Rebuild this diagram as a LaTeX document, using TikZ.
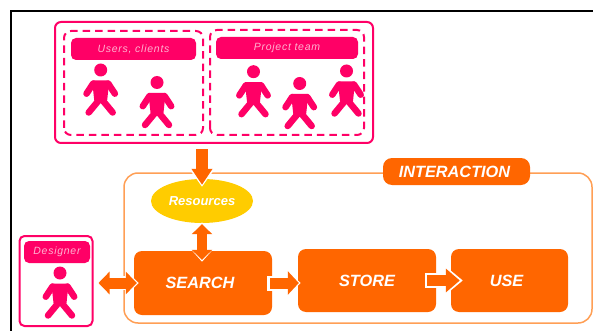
\documentclass[tikz,border=0pt]{standalone}
\usepackage{fontspec}
\setmainfont{Liberation Sans}
\newfontfamily\lblfont[LetterSpace=7]{Liberation Sans}
\usetikzlibrary{arrows.meta,shapes.geometric,calc}
\definecolor{pk}{HTML}{FF0066}
\definecolor{og}{HTML}{FF6600}
\definecolor{yl}{HTML}{FFCC00}
\definecolor{fr}{HTML}{FF9F55}
\definecolor{lbl}{HTML}{FFB3D1}
\tikzset{
  x=1pt,y=-1pt,
  dashbox/.style={draw=pk,line width=2pt,rounded corners=7pt,dash pattern=on 7.5pt off 5pt},
  pinklabel/.style={fill=pk,rounded corners=5pt,text=lbl,font=\lblfont\itshape\fontsize{10.5}{12}\selectfont,inner sep=0pt,anchor=center},
  stepbox/.style={fill=og,draw=none,rounded corners=8pt,text=white,font=\bfseries\itshape\fontsize{16.3}{18}\selectfont,inner sep=0pt,anchor=center},
  person/.pic={
    \fill[pk] (0,0) circle (6.5);
    \filldraw[pk,line width=2pt,line join=round] (-7.5,11.5) -- (7.5,11.5) -- (5.5,30) -- (-5.5,30) -- cycle;
    \draw[pk,line width=6.5pt,line cap=round,line join=round]
      (-14.2,23.7) -- (-7.5,13.5) (7.5,13.5) -- (14.2,23.7)
      (-12,42.5) -- (0,28) -- (12,42.5);
  }
}
\begin{document}
\begin{tikzpicture}
\useasboundingbox (0,0) rectangle (593,331);
\fill[white] (0,0) rectangle (593,331);
\draw[black,line width=2.2pt] (11,331) -- (11,11) -- (593,11);

% interaction frame
\draw[fr,line width=1.5pt,rounded corners=14pt] (124,173) rectangle (592,323);
\node[stepbox,rounded corners=9pt,minimum width=147pt,minimum height=27pt] (inter) at (456.5,171.5) {\hspace*{-4pt}INTERACTION};

% people group
\node[draw=pk,line width=2pt,rounded corners=6pt,minimum width=318pt,minimum height=121pt,inner sep=0pt] (group) at (214,82.5) {};
\draw[dashbox] (64,135) -- (64,31) -- (203,31) -- (203,135) -- cycle;
\draw[dashbox] (210,135) -- (210,30) -- (364,30) -- (364,135) -- cycle;
\node[pinklabel,minimum width=125pt,minimum height=22pt] (users) at (133.5,49) {Users, clients};
\node[pinklabel,minimum width=142pt,minimum height=22pt] (team) at (287,48) {Project team};
\pic at (100.7,70) {person};
\pic at (157,82.5) {person};
\pic at (253.5,71.7) {person};
\pic at (299.7,83.5) {person};
\pic at (346.5,71) {person};

% designer
\node[draw=pk,line width=2pt,rounded corners=5pt,minimum width=73pt,minimum height=90pt,inner sep=0pt] (designerbox) at (56,281) {};
\node[pinklabel,minimum width=66pt,minimum height=22pt] (designer) at (57,252) {Designer};
\pic at (60,273) {person};

% process nodes
\node[stepbox,minimum width=138pt,minimum height=64pt] (search) at (203,283) {\hspace*{-6pt}SEARCH};
\node[stepbox,minimum width=138pt,minimum height=63pt] (store) at (367,280.5) {STORE};
\node[stepbox,minimum width=117pt,minimum height=63pt] (use) at (509.5,280.5) {\hspace*{-6pt}USE};
\node[ellipse,fill=yl,minimum width=102pt,minimum height=44pt,inner sep=0pt,text=white,font=\bfseries\itshape\fontsize{13}{15}\selectfont] (res) at (202,201) {Resources};

% arrows
\draw[line width=12pt,white,-{Triangle[length=17pt,width=23pt]},shorten <=14pt,shorten >=-8pt] (group.south -| res.north) -- (res.north);
\draw[line width=12pt,og,-{Triangle[length=16pt,width=20pt]},shorten <=5pt,shorten >=-6pt] (group.south -| res.north) -- (res.north);

\draw[line width=14pt,white,{Triangle[length=14pt,width=24pt]}-{Triangle[length=14pt,width=24pt]},shorten <=-1pt,shorten >=-11pt] (res.south) -- (search.north -| res.south);
\draw[line width=10.5pt,og,{Triangle[length=10pt,width=20pt]}-{Triangle[length=10pt,width=20pt]},shorten <=1pt,shorten >=-9pt] (res.south) -- (search.north -| res.south);

\draw[line width=14pt,white,{Triangle[length=13pt,width=24pt]}-{Triangle[length=13pt,width=24pt]},shorten <=3pt,shorten >=-5pt] (designerbox.east |- search.west) -- (search.west);
\draw[line width=11pt,og,{Triangle[length=11pt,width=22pt]}-{Triangle[length=11pt,width=22pt]},shorten <=5pt,shorten >=-3pt] (designerbox.east |- search.west) -- (search.west);

\draw[line width=15pt,white,-{Triangle[length=15pt,width=26pt]},shorten <=-5pt,shorten >=-3pt] (search.east) -- (store.west |- search.east);
\draw[line width=11pt,og,-{Triangle[length=11pt,width=23pt]},shorten <=-2pt,shorten >=-1pt] (search.east) -- (store.west |- search.east);

\draw[line width=15pt,white,-{Triangle[length=17pt,width=27pt]},shorten <=-11pt,shorten >=-12pt] (store.east |- use.west) -- (use.west);
\draw[line width=11pt,og,-{Triangle[length=14pt,width=23pt]},shorten <=-9pt,shorten >=-9pt] (store.east |- use.west) -- (use.west);
\end{tikzpicture}
\end{document}
